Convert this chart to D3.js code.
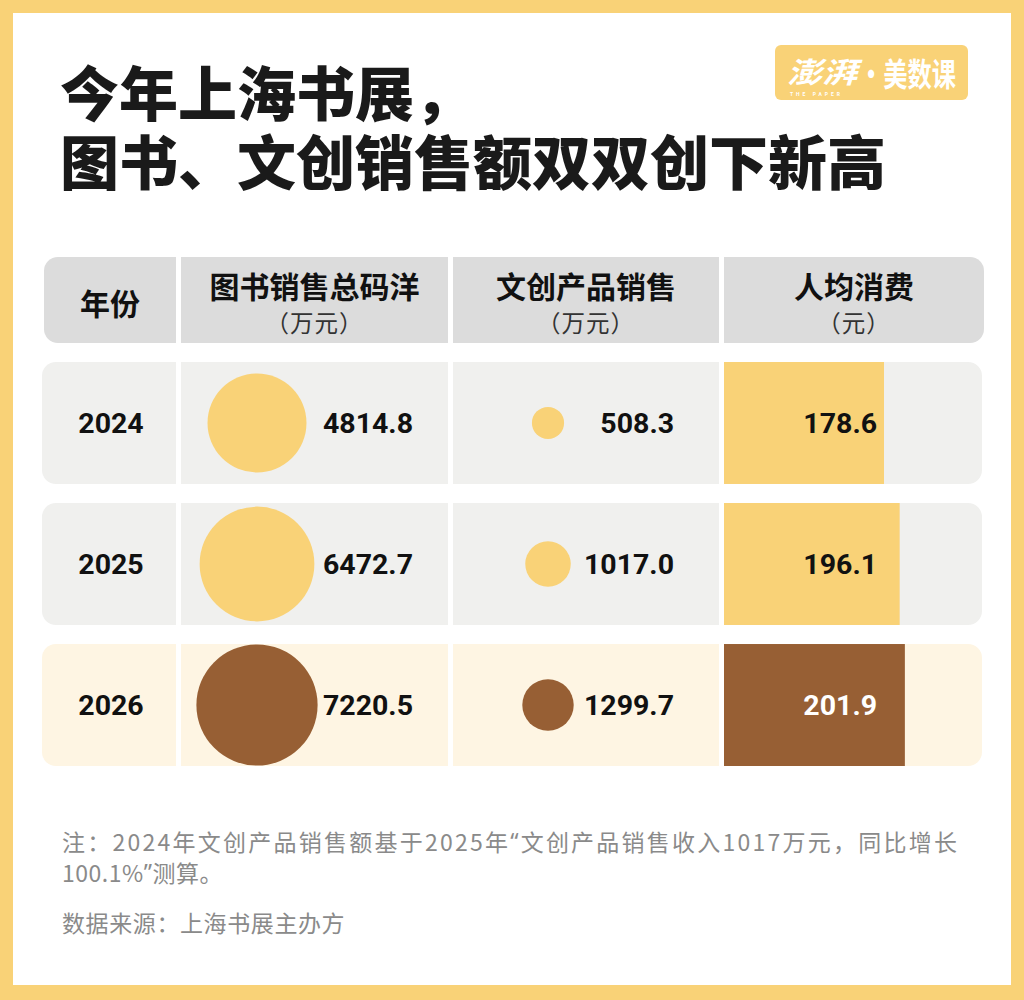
<!DOCTYPE html>
<html><head><meta charset="utf-8">
<script src="https://cdn.jsdelivr.net/npm/d3@7/dist/d3.min.js"></script>
<style>
html,body{margin:0;padding:0;background:#fff;}
svg{display:block;}
</style></head>
<body>
<svg id="chart" width="1024" height="1000"></svg>
<script>
// ---- data ----
const titleLines = ["今年上海书展，", "图书、文创销售额双双创下新高"];
const headerMain = ["年份", "图书销售总码洋", "文创产品销售", "人均消费"];
const headerSub = ["", "（万元）", "（万元）", "（元）"];
const years = ["2024", "2025", "2026"];
const bookSales = [4814.8, 6472.7, 7220.5];
const creativeSales = [508.3, 1017.0, 1299.7];
const perCapita = [178.6, 196.1, 201.9];
const notes = ["注：2024年文创产品销售额基于2025年“文创产品销售收入1017万元，同比增长", "100.1%”测算。"];
const source = "数据来源：上海书展主办方";

// ---- style ----
const C = {
  frame: "#F9D277", yellow: "#F9D277", brown: "#975F34",
  head: "#DCDCDC", row: "#F0F0EE", rowHi: "#FEF5E3",
  text: "#111", sub: "#333", note: "#8A8A8A"
};
const cjk = "'Noto Sans CJK SC','Noto Sans',sans-serif";
const num = "Roboto,'Noto Sans',sans-serif";

const svg = d3.select("#chart");
svg.append("rect").attr("width", 1024).attr("height", 1000).attr("fill", C.frame);
svg.append("rect").attr("x", 13).attr("y", 13).attr("width", 998).attr("height", 972).attr("fill", "#fff");

// title (one text block, two lines)
const title = svg.append("text").attr("class", "title")
  .attr("font-family", cjk).attr("font-weight", 900).attr("font-size", 59).attr("fill", "#1a1a1a");
title.selectAll("tspan").data(titleLines).join("tspan")
  .attr("x", 60).attr("y", (d, i) => 90 + i * 69)
  .attr("dominant-baseline", "central").text(d => d);

// logo
const logo = svg.append("g");
logo.append("rect").attr("x", 775).attr("y", 45).attr("width", 193).attr("height", 55).attr("rx", 6).attr("fill", C.yellow);
logo.append("text").attr("x", 787).attr("y", 70).attr("dominant-baseline", "central")
  .attr("font-family", cjk).attr("font-weight", 700).attr("font-size", 29).attr("fill", "#fff")
  .attr("textLength", 70).attr("lengthAdjust", "spacingAndGlyphs").attr("font-style", "italic").text("澎湃");
logo.append("text").attr("x", 859).attr("y", 72).attr("dominant-baseline", "central")
  .attr("font-family", cjk).attr("font-weight", 700).attr("font-size", 32).attr("fill", "#fff")
  .attr("textLength", 97).attr("lengthAdjust", "spacingAndGlyphs").text("·美数课");
logo.append("text").attr("x", 790).attr("y", 94).attr("dominant-baseline", "central")
  .attr("font-family", num).attr("font-weight", 700).attr("font-size", 5).attr("fill", "#fff")
  .attr("textLength", 50).attr("lengthAdjust", "spacing").text("THE PAPER");

// column layout
const cols = [
  {x0: 42, x1: 176, hx0: 44},
  {x0: 181, x1: 448},
  {x0: 453, x1: 719},
  {x0: 724, x1: 982, hx1: 984}
];
const R = 14;
function cellPath(x0, x1, y0, y1, side) {
  const p = d3.path();
  if (side === "left") {
    p.moveTo(x0 + R, y0); p.lineTo(x1, y0); p.lineTo(x1, y1); p.lineTo(x0 + R, y1);
    p.arcTo(x0, y1, x0, y1 - R, R); p.lineTo(x0, y0 + R); p.arcTo(x0, y0, x0 + R, y0, R);
  } else if (side === "right") {
    p.moveTo(x0, y0); p.lineTo(x1 - R, y0); p.arcTo(x1, y0, x1, y0 + R, R);
    p.lineTo(x1, y1 - R); p.arcTo(x1, y1, x1 - R, y1, R); p.lineTo(x0, y1);
  } else {
    p.rect(x0, y0, x1 - x0, y1 - y0);
  }
  p.closePath();
  return p.toString();
}
const sideOf = i => i === 0 ? "left" : (i === 3 ? "right" : "none");

// header
const hy0 = 257, hy1 = 343;
cols.forEach((c, i) => {
  const x0 = c.hx0 !== undefined ? c.hx0 : c.x0;
  const x1 = c.hx1 !== undefined ? c.hx1 : c.x1;
  svg.append("path").attr("d", cellPath(x0, x1, hy0, hy1, sideOf(i))).attr("fill", C.head);
  const cx = (x0 + x1) / 2;
  svg.append("text").attr("x", cx).attr("y", i === 0 ? 302 : 285).attr("text-anchor", "middle")
    .attr("dominant-baseline", "central").attr("font-family", cjk).attr("font-weight", 700)
    .attr("font-size", 30).attr("fill", C.text).text(headerMain[i]);
  if (headerSub[i]) {
    svg.append("text").attr("x", cx).attr("y", 322).attr("text-anchor", "middle")
      .attr("dominant-baseline", "central").attr("font-family", cjk).attr("font-weight", 400)
      .attr("font-size", 23.5).attr("letter-spacing", 1).attr("fill", C.sub).text(headerSub[i]);
  }
});

// scales
const y = d3.scaleBand().domain(years).range([362, 766]).paddingInner(0.135).paddingOuter(0);
const r = d3.scaleSqrt().domain([0, d3.max(bookSales)]).range([0, 60.6]);
const xBar = d3.scaleLinear().domain([0, 288]).range([0, cols[3].x1 - cols[3].x0]);
const last = years.length - 1;
const fillOf = i => i === last ? C.brown : C.yellow;

const rows = svg.selectAll("g.row").data(years).join("g").attr("class", "row");
rows.each(function(yr, i) {
  const g = d3.select(this);
  const y0 = y(yr), y1 = y0 + y.bandwidth(), cy = y0 + y.bandwidth() / 2;
  cols.forEach((c, ci) => {
    g.append("path").attr("d", cellPath(c.x0, c.x1, y0, y1, sideOf(ci)))
      .attr("fill", i === last ? C.rowHi : C.row);
  });
  // per-capita bar
  g.append("rect").attr("x", cols[3].x0).attr("y", y0).attr("width", xBar(perCapita[i]))
    .attr("height", y.bandwidth()).attr("fill", fillOf(i));
  // circles
  g.append("circle").attr("cx", 257).attr("cy", cy).attr("r", r(bookSales[i])).attr("fill", fillOf(i));
  g.append("circle").attr("cx", 548).attr("cy", cy).attr("r", r(creativeSales[i])).attr("fill", fillOf(i));
  const numText = (x, val, anchor, color) => g.append("text").attr("x", x).attr("y", cy + 10)
    .attr("text-anchor", anchor).attr("font-family", num).attr("font-weight", 700)
    .attr("font-size", 28.5).attr("fill", color).text(val);
  numText(111, yr, "middle", C.text);
  numText(413, bookSales[i].toFixed(1), "end", C.text);
  numText(674, creativeSales[i].toFixed(1), "end", C.text);
  numText(877, perCapita[i].toFixed(1), "end", i === last ? "#fff" : C.text);
});

// notes: split quotes into proportional Latin glyphs
function fillRuns(sel, str) {
  const parts = str.split(/([“”])/).filter(s => s.length);
  sel.selectAll("tspan").data(parts).join("tspan")
    .attr("font-family", d => /[“”]/.test(d) ? "'Noto Sans',sans-serif" : null)
    .text(d => d);
}
const noteSel = svg.selectAll("text.note").data(notes).join("text").attr("class", "note")
  .attr("x", 62).attr("y", (d, i) => 841 + i * 31).attr("dominant-baseline", "central")
  .attr("font-family", cjk).attr("font-size", 23).attr("fill", C.note)
  .each(function(d) { fillRuns(d3.select(this), d); });
noteSel.filter((d, i) => i === 0).attr("textLength", 895).attr("lengthAdjust", "spacing");
noteSel.filter((d, i) => i > 0).attr("letter-spacing", 0.5);
svg.append("text").attr("x", 62).attr("y", 922).attr("dominant-baseline", "central")
  .attr("font-family", cjk).attr("font-size", 23).attr("letter-spacing", 0.6).attr("fill", C.note).text(source);
</script>
</body></html>
